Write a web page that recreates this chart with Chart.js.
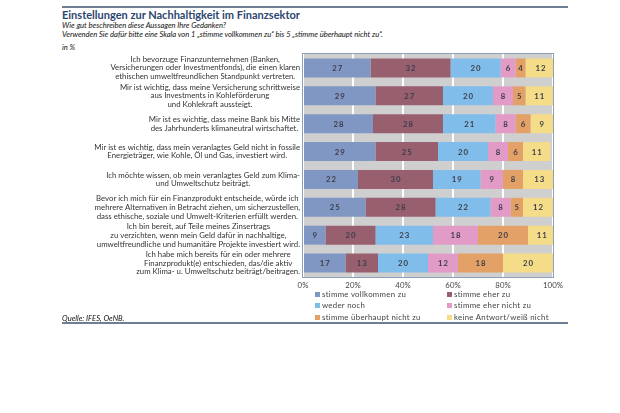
<!DOCTYPE html>
<html>
<head>
<meta charset="utf-8">
<script src="https://cdn.jsdelivr.net/npm/chart.js@4.4.0/dist/chart.umd.min.js"></script>
<style>
  html, body { margin: 0; padding: 0; background: #fff; }
  #wrap { position: relative; width: 620px; height: 413px; overflow: hidden; font-family: Lato, "Open Sans", sans-serif; color: #333; -webkit-font-smoothing: antialiased; }
  #chart { position: absolute; left: 0; top: 0; }
  .rule { position: absolute; left: 62px; width: 506px; height: 2px; background: #6f7f93; }
  .title { position: absolute; left: 62px; top: 8px; font-size: 11px; font-weight: bold; color: #2c4670; }
  .sub { position: absolute; left: 62px; font-size: 7.6px; font-style: italic; color: #111; }
  .legend { position: absolute; left: 315px; top: 289px; display: grid; grid-template-columns: 132px 130px; row-gap: 1.4px; font-size: 7.8px; color: #444; letter-spacing: 0.3px; }
  .legend span i { display: inline-block; width: 5px; height: 5px; margin-right: 2px; vertical-align: 0px; }
</style>
</head>
<body>
<div id="wrap">
  <div class="rule" style="top:6px"></div>
  <div class="title">Einstellungen zur Nachhaltigkeit im Finanzsektor</div>
  <div class="sub" style="top:20px">Wie gut beschreiben diese Aussagen Ihre Gedanken?</div>
  <div class="sub" style="top:28.5px">Verwenden Sie dafür bitte eine Skala von 1 „stimme vollkommen zu“ bis 5 „stimme überhaupt nicht zu“.</div>
  <div class="sub" style="top:42px">in %</div>
  <canvas id="chart" width="620" height="413"></canvas>
  <div class="legend" id="legend"></div>
  <div class="sub" style="top:313px">Quelle: IFES, OeNB.</div>
  <div class="rule" style="top:322px"></div>
</div>
<script>
"use strict";

var categories = [
    ["Ich bevorzuge Finanzunternehmen (Banken,", "Versicherungen oder Investmentfonds), die einen klaren", "ethischen umweltfreundlichen Standpunkt vertreten."],
    ["Mir ist wichtig, dass meine Versicherung schrittweise", "aus Investments in Kohleförderung", "und Kohlekraft aussteigt."],
    ["Mir ist es wichtig, dass meine Bank bis Mitte", "des Jahrhunderts klimaneutral wirtschaftet."],
    ["Mir ist es wichtig, dass mein veranlagtes Geld nicht in fossile", "Energieträger, wie Kohle, Öl und Gas, investiert wird."],
    ["Ich möchte wissen, ob mein veranlagtes Geld zum Klima-", "und Umweltschutz beiträgt."],
    ["Bevor ich mich für ein Finanzprodukt entscheide, würde ich", "mehrere Alternativen in Betracht ziehen, um sicherzustellen,", "dass ethische, soziale und Umwelt-Kriterien erfüllt werden."],
    ["Ich bin bereit, auf Teile meines Zinsertrags", "zu verzichten, wenn mein Geld dafür in nachhaltige,", "umweltfreundliche und humanitäre Projekte investiert wird."],
    ["Ich habe mich bereits für ein oder mehrere", "Finanzprodukt(e) entschieden, das/die aktiv", "zum Klima- u. Umweltschutz beiträgt/beitragen."]
];

var seriesNames = ["stimme vollkommen zu", "stimme eher zu", "weder noch", "stimme eher nicht zu", "stimme überhaupt nicht zu", "keine Antwort/weiß nicht"];
var seriesColors = ["#8097c3", "#985f6f", "#80bdea", "#e29ac7", "#e3a067", "#f4dc88"];

var vollkommen = [27, 29, 28, 29, 22, 25, 9, 17];
var eher = [32, 27, 28, 25, 30, 28, 20, 13];
var wederNoch = [20, 20, 21, 20, 19, 22, 23, 20];
var eherNicht = [6, 8, 8, 8, 9, 8, 18, 12];
var ueberhauptNicht = [4, 5, 6, 6, 8, 5, 20, 18];
var keineAntwort = [12, 11, 9, 11, 13, 12, 11, 20];

var xTicks = [0, 20, 40, 60, 80, 100];

var seriesValues = [vollkommen, eher, wederNoch, eherNicht, ueberhauptNicht, keineAntwort];

// legend (two columns, like the original)
var legendEl = document.getElementById("legend");
seriesNames.forEach(function (name, i) {
    var s = document.createElement("span");
    s.innerHTML = '<i style="background:' + seriesColors[i] + '"></i>' + name;
    legendEl.appendChild(s);
});

// plot background + frame
var plotFrame = {
    id: "plotFrame",
    beforeDraw: function (chart) {
        var a = chart.chartArea, ctx = chart.ctx;
        ctx.save();
        ctx.fillStyle = "#cfcfcf";
        ctx.fillRect(a.left, a.top, a.right - a.left, a.bottom - a.top);
        ctx.restore();
    },
    afterDraw: function (chart) {
        var a = chart.chartArea, ctx = chart.ctx;
        ctx.save();
        ctx.strokeStyle = "#8d9fbb";
        ctx.lineWidth = 1;
        ctx.strokeRect(a.left - 0.5, a.top - 0.5, a.right - a.left + 1, a.bottom - a.top + 1);
        ctx.restore();
    }
};

// category labels: block right aligned, lines centered
var catLabels = {
    id: "catLabels",
    afterDraw: function (chart) {
        var ctx = chart.ctx, yScale = chart.scales.y;
        var right = chart.chartArea.left - 3;
        var lh = 8.8;
        ctx.save();
        ctx.font = "7.8px Lato";
        ctx.fillStyle = "#333";
        ctx.textAlign = "center";
        ctx.textBaseline = "middle";
        categories.forEach(function (lines, i) {
            var w = 0;
            lines.forEach(function (l) { w = Math.max(w, ctx.measureText(l).width); });
            var cx = right - w / 2;
            var yc = yScale.getPixelForValue(i);
            var y0 = yc - (lines.length - 1) * lh / 2;
            lines.forEach(function (l, j) { ctx.fillText(l, cx, y0 + j * lh); });
        });
        ctx.restore();
    }
};

// value labels inside the bars
var barValues = {
    id: "barValues",
    afterDatasetsDraw: function (chart) {
        var ctx = chart.ctx;
        ctx.save();
        ctx.font = "bold 7.8px Lato";
        ctx.letterSpacing = "1px";
        ctx.fillStyle = "#3d3d4a";
        ctx.textAlign = "center";
        ctx.textBaseline = "middle";
        chart.data.datasets.forEach(function (ds, di) {
            chart.getDatasetMeta(di).data.forEach(function (bar, i) {
                ctx.fillText(String(ds.data[i]), (bar.x + bar.base) / 2 + 0.5, bar.y + 0.5);
            });
        });
        ctx.restore();
    }
};

var ctx = document.getElementById("chart").getContext("2d");
new Chart(ctx, {
    type: "bar",
    data: {
        labels: categories.map(function (c) { return c.join(" "); }),
        datasets: seriesNames.map(function (name, i) {
            return {
                label: name,
                data: seriesValues[i],
                backgroundColor: seriesColors[i],
                borderWidth: 0,
                barPercentage: 0.68,
                categoryPercentage: 1
            };
        })
    },
    options: {
        indexAxis: "y",
        responsive: false,
        animation: false,
        layout: { padding: { left: 303, right: 67, top: 54, bottom: 122 } },
        plugins: {
            legend: { display: false },
            tooltip: { enabled: false }
        },
        scales: {
            x: {
                stacked: true,
                min: 0,
                max: 100,
                afterBuildTicks: function (scale) {
                    scale.ticks = xTicks.map(function (v) { return { value: v }; });
                },
                afterFit: function (scale) { scale.height = 14; },
                grid: { color: "#ffffff", lineWidth: 2, drawTicks: false },
                border: { display: false },
                ticks: {
                    padding: 4,
                    color: "#444",
                    font: { family: "Lato", size: 7.8 },
                    callback: function (v) { return v + "%"; }
                }
            },
            y: {
                stacked: true,
                display: false
            }
        }
    },
    plugins: [plotFrame, catLabels, barValues]
});
</script>
</body>
</html>
